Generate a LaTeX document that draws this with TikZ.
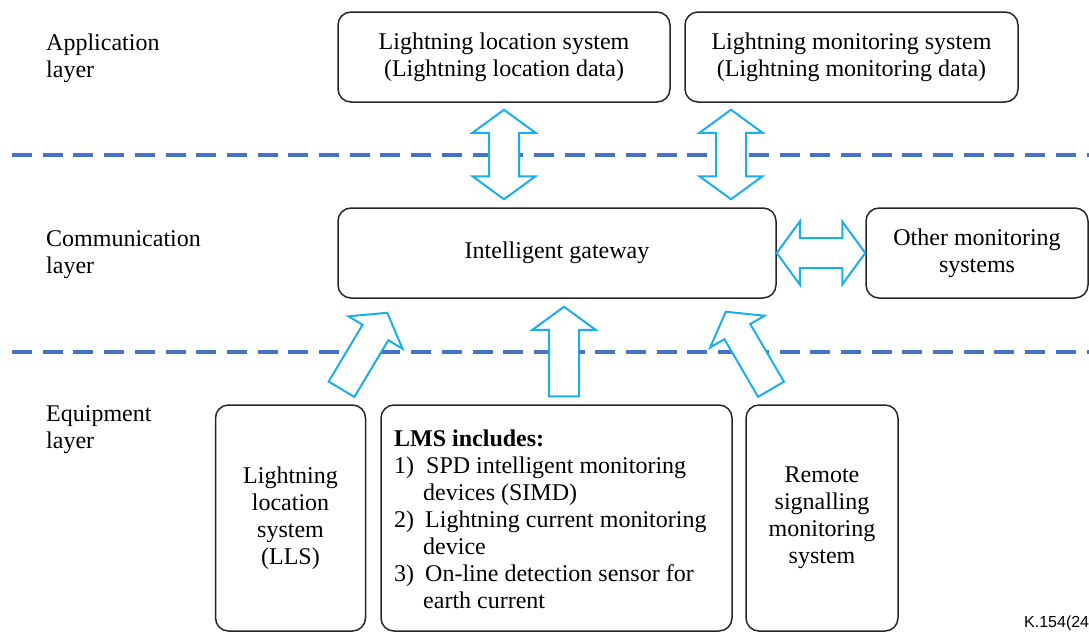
\documentclass[tikz,border=0pt]{standalone}
\usepackage{fontspec}
\setmainfont{Liberation Serif}
\newfontfamily\figsans{Liberation Sans}
\usetikzlibrary{calc}

\definecolor{boxline}{HTML}{262626}
\definecolor{layerblue}{HTML}{4472C4}
\definecolor{flowcyan}{HTML}{1AAFEC}

% block arrow geometry
\def\headlen{23pt}
\def\headhalf{31.5pt}
\def\shafthalf{15pt}

% one-way block arrow from tail #1 to tip #2
\newcommand\flowarrow[2]{%
  \coordinate (fa-h) at ($(#2)!\headlen!(#1)$);
  \draw[flow] ($(#1)!\shafthalf!90:(#2)$) -- ($(fa-h)!\shafthalf!90:(#2)$)
    -- ($(fa-h)!\headhalf!90:(#2)$) -- (#2) -- ($(fa-h)!\headhalf!-90:(#2)$)
    -- ($(fa-h)!\shafthalf!-90:(#2)$) -- ($(#1)!\shafthalf!-90:(#2)$) -- cycle;
}
% two-way block arrow between tips #1 and #2
\newcommand\twowayarrow[2]{%
  \coordinate (tw-a) at ($(#1)!\headlen!(#2)$);
  \coordinate (tw-b) at ($(#2)!\headlen!(#1)$);
  \draw[flow] (#1) -- ($(tw-a)!\headhalf!90:(#2)$) -- ($(tw-a)!\shafthalf!90:(#2)$)
    -- ($(tw-b)!\shafthalf!-90:(#1)$) -- ($(tw-b)!\headhalf!-90:(#1)$) -- (#2)
    -- ($(tw-b)!\headhalf!90:(#1)$) -- ($(tw-b)!\shafthalf!90:(#1)$)
    -- ($(tw-a)!\shafthalf!-90:(#2)$) -- ($(tw-a)!\headhalf!-90:(#2)$) -- cycle;
}

\tikzset{
  txt/.style={font=\fontsize{24}{27}\selectfont},
  box/.style={txt, draw=boxline, line width=1.5pt, rounded corners=13pt,
    align=center, inner sep=0pt},
  layerlabel/.style={txt, anchor=west, align=left, inner sep=0pt},
  layerline/.style={draw=layerblue, line width=4pt, dash pattern=on 20pt off 10.7pt},
  flow/.style={draw=flowcyan, fill=white, line width=2pt, line join=miter},
}

\begin{document}
\begin{tikzpicture}[x=1pt, y=-1pt]
\useasboundingbox (0,0) rectangle (1089,633);

% layer separators
\draw[layerline] (12,155) -- (1089,155);
\draw[layerline] (12,352) -- (1089,352);

% layer names
\node[layerlabel] (lapp) at (46,58.5) {Application\\layer};
\node[layerlabel] (lcom) at (46,254.5) {Communication\\layer};
\node[layerlabel] (lequ) at (46,429.5) {Equipment\\layer};

% application layer
\node[box, minimum width=332pt, minimum height=90pt] (app1) at (504,57)
  {Lightning location system\\(Lightning location data)};
\node[box, minimum width=333pt, minimum height=90pt] (app2) at (851.5,57)
  {Lightning monitoring system\\(Lightning monitoring data)};

% communication layer
\node[box, minimum width=438pt, minimum height=90pt] (gw) at (557,253)
  {Intelligent gateway};
\node[box, minimum width=222pt, minimum height=90pt] (other) at (977,253)
  {Other monitoring\\systems};

% equipment layer
\node[box, minimum width=150pt, minimum height=226pt] (lls) at (290.5,518)
  {Lightning\\location\\system\\(LLS)};
\node[box, minimum width=351pt, minimum height=226pt] (lms) at (556.5,518) {};
\node[txt, anchor=north west, align=left, inner sep=0pt] (lmstext) at (394,429.5)
  {\textbf{LMS includes:}\\
   \makebox[32pt][l]{1)}SPD intelligent monitoring\\
   \hspace*{29pt}devices (SIMD)\\
   \makebox[31pt][l]{2)}Lightning current monitoring\\
   \hspace*{29pt}device\\
   \makebox[31pt][l]{3)}On-line detection sensor for\\
   \hspace*{29pt}earth current};
\node[box, minimum width=152pt, minimum height=226pt] (rem) at (822,518)
  {Remote\\signalling\\monitoring\\system};

% figure reference
\node[font=\figsans\fontsize{16}{18}\selectfont, anchor=base west, inner sep=0pt]
  (ref) at (1024,627) {K.154(24};

% arrow end points
\coordinate (a1t) at ($(app1.south)+(0,7)$);
\coordinate (a1b) at ($(app1.south |- gw.north)+(0,-8)$);
\coordinate (a2t) at ($(app2.south)+(-120.5,7)$);
\coordinate (a2b) at ($(a2t |- gw.north)+(0,-8)$);
\coordinate (ulls) at ($(lls.north)+(51,-15)$);
\coordinate (ugwl) at ($(gw.south west)+(50,14)$);
\coordinate (ulms) at ($(lms.north)+(7.5,-8)$);
\coordinate (ugwm) at ($(gw.south)+(7,8)$);
\coordinate (urem) at ($(rem.north)+(-51,-15)$);
\coordinate (ugwr) at ($(gw.south east)+(-51,13)$);

% data flows
\twowayarrow{a1t}{a1b}
\twowayarrow{a2t}{a2b}
\twowayarrow{gw.east}{other.west}
\flowarrow{ulls}{ugwl}
\flowarrow{ulms}{ugwm}
\flowarrow{urem}{ugwr}
\end{tikzpicture}
\end{document}
